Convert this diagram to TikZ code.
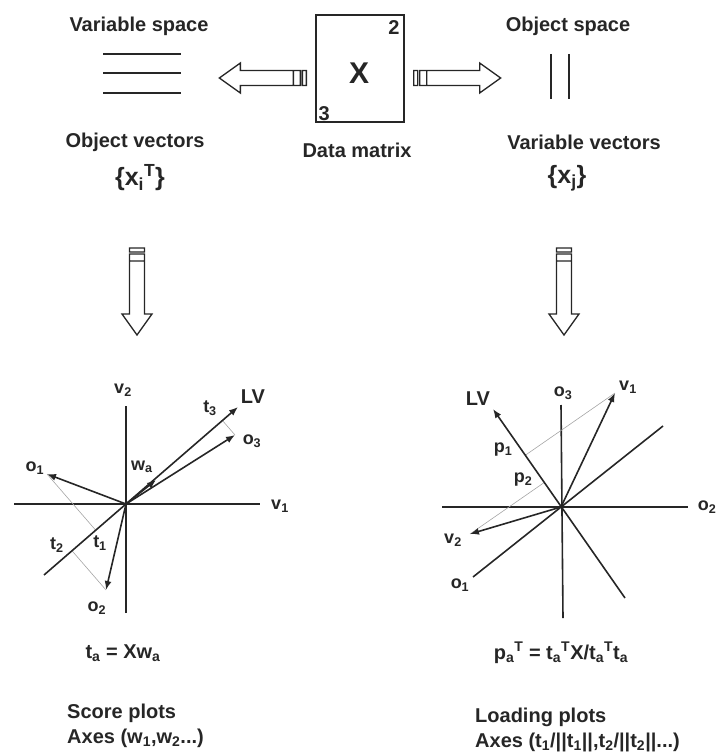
\documentclass[tikz,border=0pt]{standalone}
\usepackage{fontspec}
\setmainfont{Liberation Sans}
\usetikzlibrary{arrows.meta, calc, positioning}
\definecolor{inkgray}{RGB}{38, 38, 38}
\definecolor{projgray}{RGB}{165, 165, 165}

\tikzset{
    lbl/.style={font=\fontsize{20}{24}\selectfont\bfseries, text=inkgray, inner sep=0pt},
    plotlbl/.style={font=\fontsize{18}{20}\selectfont\bfseries, text=inkgray, inner sep=0pt},
    axisline/.style={draw=inkgray, line width=1.6pt},
    vec/.style={draw=inkgray, line width=1.6pt, -{Latex[length=9pt, width=7pt]}},
    projline/.style={draw=projgray, line width=0.6pt},
    blockarrow/.pic={
        \draw[draw=inkgray, line width=1.3pt, fill=white]
            (0,-7.5) rectangle (4,7.5)
            (6,-7.5) rectangle (13,7.5)
            (13,-7.5) -- (66,-7.5) -- (66,-15) -- (87,0) -- (66,15) -- (66,7.5) -- (13,7.5) -- cycle;
    }
}

\begin{document}
\begin{tikzpicture}[x=1pt, y=-1pt]
    \useasboundingbox (0,0) rectangle (717,752);

    % data matrix and the two spaces
    \node[draw=inkgray, line width=1.3pt, minimum width=88pt, minimum height=107pt, inner sep=0pt] (matrix) at (360,68.5) {};
    \node[lbl, font=\fontsize{30}{32}\selectfont\bfseries] (xname) at (359,73) {X};
    \node[lbl, anchor=north east] (ncols) at ($(matrix.north east)+(-5,6)$) {2};
    \node[lbl, anchor=south west] (nrows) at ($(matrix.south west)+(3,-2)$) {3};
    \node[lbl] (datamatrix) at (357,150) {Data matrix};

    \node[lbl] (varspace) at (139,26) {Variable space};
    \node[lbl] (objspace) at (568,26) {Object space};
    \node[lbl] (objvec) at (135,142) {Object vectors};
    \node[lbl] (varvec) at (584,142) {Variable vectors};
    \node[lbl, font=\fontsize{25}{26}\selectfont\bfseries] (xiT) at (140,178) {\{x\textsubscript{i}\textsuperscript{T}\}};
    \node[lbl, font=\fontsize{25}{26}\selectfont\bfseries] (xj) at (567,178) {\{x\textsubscript{j}\}};

    \foreach \yy in {54,73,93}
        \draw[inkgray, line width=1.1pt] (103,\yy) -- (181,\yy);
    \foreach \xx in {551,569}
        \draw[inkgray, line width=1.1pt] (\xx,54) -- (\xx,99);

    \pic[rotate=180] at ($(matrix.west)+(-9,9.5)$) {blockarrow};
    \pic at ($(matrix.east)+(9,9.5)$) {blockarrow};
    \pic[rotate=-90] at (137,248) {blockarrow};
    \pic[rotate=-90] at (564,248) {blockarrow};

    % score plot
    \coordinate (O) at (126,504);
    \coordinate (v1end) at (260,504);
    \coordinate (v2end) at (126,406);
    \coordinate (lvtip) at (238,407);
    \coordinate (lvtail) at (44,575);
    \coordinate (o1) at (47,474);
    \coordinate (o2) at (106,590);
    \coordinate (o3) at (235,435);
    \coordinate (wa) at (156,480);
    \draw[axisline] (14,504) -- (v1end);
    \draw[axisline] (126,613) -- (v2end);
    \draw[projline] (o1) -- ($(O)!(o1)!(lvtip)$);
    \draw[projline] (o2) -- ($(O)!(o2)!(lvtip)$);
    \draw[projline] (o3) -- ($(O)!(o3)!(lvtip)$);
    \draw[vec] (lvtail) -- (lvtip);
    \draw[vec] (O) -- (o1);
    \draw[vec] (O) -- (o2);
    \draw[vec] (O) -- (o3);
    \draw[vec] (O) -- (wa);
    \node[plotlbl] (v1lbl) at (280,506) {v\textsubscript{1}};
    \node[plotlbl] (v2lbl) at (123,390) {v\textsubscript{2}};
    \node[plotlbl, font=\fontsize{20}{20}\selectfont\bfseries] (lvlbl) at (253,397) {LV};
    \node[plotlbl] (t3lbl) at (210,408) {t\textsubscript{3}};
    \node[plotlbl] (o3lbl) at (252,441) {o\textsubscript{3}};
    \node[plotlbl] (o1lbl) at (35,468) {o\textsubscript{1}};
    \node[plotlbl] (o2lbl) at (97,608) {o\textsubscript{2}};
    \node[plotlbl] (walbl) at (142,467) {w\textsubscript{a}};
    \node[plotlbl] (t1lbl) at (100,543) {t\textsubscript{1}};
    \node[plotlbl] (t2lbl) at (57,545) {t\textsubscript{2}};

    % loading plot
    \coordinate (P) at (561,507);
    \coordinate (lvtipR) at (493,409);
    \coordinate (lvtailR) at (625,598);
    \coordinate (v1R) at (615,393);
    \coordinate (v2R) at (470,534);
    \draw[axisline] (442,507) -- (688,507);
    \draw[axisline] (561,405) -- (563,618);
    \draw[axisline] (473,577) -- (663,426);
    \draw[projline] (v1R) -- ($(P)!(v1R)!(lvtipR)$);
    \draw[projline] (v2R) -- ($(P)!(v2R)!(lvtipR)$);
    \draw[vec] (lvtailR) -- (lvtipR);
    \draw[vec] (P) -- (v1R);
    \draw[vec] (P) -- (v2R);
    \node[plotlbl] (o2lblR) at (707,507) {o\textsubscript{2}};
    \node[plotlbl] (o3lblR) at (563,393) {o\textsubscript{3}};
    \node[plotlbl] (o1lblR) at (460,585) {o\textsubscript{1}};
    \node[plotlbl, font=\fontsize{20}{20}\selectfont\bfseries] (lvlblR) at (478,399) {LV};
    \node[plotlbl] (v1lblR) at (628,387) {v\textsubscript{1}};
    \node[plotlbl] (v2lblR) at (453,540) {v\textsubscript{2}};
    \node[plotlbl] (p1lbl) at (503,450) {p\textsubscript{1}};
    \node[plotlbl] (p2lbl) at (523,480) {p\textsubscript{2}};

    % formulas and captions
    \node[lbl] (scoreeq) at (123,653) {t\textsubscript{a} = Xw\textsubscript{a}};
    \node[lbl] (loadeq) at (561,653) {p\textsubscript{a}\textsuperscript{T} = t\textsubscript{a}\textsuperscript{T}X/t\textsubscript{a}\textsuperscript{T}t\textsubscript{a}};
    \node[lbl, anchor=west, align=left, font=\fontsize{20}{25}\selectfont\bfseries] (scorecap) at (67,725.5) {Score plots\\Axes (w\textsubscript{1},w\textsubscript{2}...)};
    \node[lbl, anchor=west, align=left, font=\fontsize{20}{25}\selectfont\bfseries] (loadcap) at (475,729.5) {Loading plots\\Axes (t\textsubscript{1}/||t\textsubscript{1}||,t\textsubscript{2}/||t\textsubscript{2}||...)};
\end{tikzpicture}
\end{document}
